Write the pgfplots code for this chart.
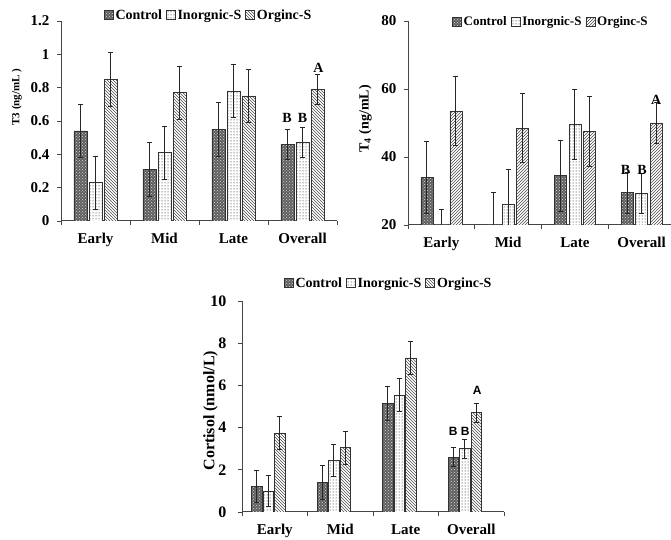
\documentclass[border=0pt]{standalone}
\usepackage{fontspec}
\setmainfont{Liberation Serif}
\newfontfamily\arialf{Liberation Sans}
\usepackage{pgfplots}
\pgfplotsset{compat=1.18}
\usetikzlibrary{patterns}

\definecolor{axgray}{RGB}{70,70,70}
\definecolor{ctrl}{RGB}{95,95,95}

\pgfplotsset{
  hormone/.style={
    scale only axis,
    axis x line*=bottom, axis y line*=left,
    axis line style={axgray, line width=1pt},
    every tick/.style={axgray, line width=0.8pt},
    tick align=outside, major tick length=4pt,
    xmin=0.5, xmax=4.5,
    xtick={0.5,1.5,2.5,3.5,4.5}, xticklabels={},
    extra x ticks={1,2,3,4}, extra x tick labels={Early,Mid,Late,Overall},
    extra x tick style={major tick length=0pt},
    xticklabel style={font=\bfseries\fontsize{15}{17}\selectfont, yshift=-9pt},
    yticklabel style={font=\bfseries\fontsize{15}{17}\selectfont, xshift=-4pt},
    /pgf/number format/assume math mode=true,
    ybar,
    legend style={draw=none, fill=none, legend columns=3,
      font=\bfseries\fontsize{14}{16}\selectfont,
      /tikz/every even column/.append style={column sep=2pt}},
  },
  sqleg/.style={/pgfplots/legend image code/.code={\draw[##1, line width=0.6pt] (0pt,-4.5pt) rectangle (9pt,4.5pt);}},
  eb/.style={error bars/y dir=both, error bars/y explicit,
    error bars/error bar style={black!85, line width=0.9pt},
    error bars/error mark options={rotate=90, mark size=2.5pt, line width=0.9pt, black!85}},
  ctrlbar/.style={draw=black!80, line width=0.7pt, fill=ctrl,
    postaction={pattern=crosshatch dots, pattern color=white!70!gray}, sqleg},
  inorgbar/.style={draw=black!80, line width=0.7pt, fill=white,
    postaction={pattern=dots, pattern color=black}, sqleg},
  orgNW/.style={draw=black!80, line width=0.7pt, fill=white,
    postaction={pattern=north west lines, pattern color=black!70}, sqleg},
  orgNE/.style={draw=black!80, line width=0.7pt, fill=white,
    postaction={pattern=north east lines, pattern color=black!70}, sqleg},
}

\begin{document}
\begin{tikzpicture}[x=1pt,y=1pt]
\useasboundingbox (0,0) rectangle (671,540);

% ---------------- T3 ----------------
\begin{axis}[hormone, at={(61pt,319pt)}, anchor=south west,
  width=276pt, height=200pt,
  ymin=0, ymax=1.2, ytick={0,0.2,...,1.2},
  bar width=13pt, ybar=2pt,
  ylabel={T3 (ng/mL )},
  ylabel style={font=\bfseries\fontsize{11}{13}\selectfont, at={(axis description cs:-0.16,0.62)}, anchor=center, rotate=0},
  legend style={at={(axis description cs:0.535,1.03)}, anchor=center},
]
\addplot[ctrlbar, eb] coordinates {(1,0.54) +- (0,0.16) (2,0.31) +- (0,0.16) (3,0.55) +- (0,0.16) (4,0.46) +- (0,0.09)};
\addplot[inorgbar, eb] coordinates {(1,0.23) +- (0,0.16) (2,0.41) +- (0,0.16) (3,0.78) +- (0,0.16) (4,0.47) +- (0,0.09)};
\addplot[orgNW, eb] coordinates {(1,0.85) +- (0,0.16) (2,0.77) +- (0,0.16) (3,0.75) +- (0,0.16) (4,0.79) +- (0,0.09)};
\legend{Control,Inorgnic-S,Orginc-S}
\node[font=\bfseries\fontsize{14}{16}\selectfont] at (axis cs:4,0.62) [xshift=-15.5pt] {B};
\node[font=\bfseries\fontsize{14}{16}\selectfont] at (axis cs:4,0.62) {B};
\node[font=\bfseries\fontsize{14}{16}\selectfont] at (axis cs:4,0.92) [xshift=16pt] {A};
\end{axis}

% ---------------- T4 ----------------
\begin{axis}[hormone, at={(408pt,315pt)}, anchor=south west,
  width=267pt, height=204pt,
  ymin=20, ymax=80, ytick={20,40,60,80},
  bar width=12pt, ybar=2.5pt,
  ylabel={T$_{\mathbf{4}}$ (ng/mL)},
  ylabel style={font=\bfseries\fontsize{14}{16}\selectfont, at={(axis description cs:-0.16,0.52)}, anchor=center, rotate=0},
  legend style={at={(axis description cs:0.535,0.995)}, anchor=center, font=\bfseries\fontsize{13}{15}\selectfont},
]
\addplot[ctrlbar, eb] coordinates {(1,34) +- (0,10.5) (2,19) +- (0,10.5) (3,34.5) +- (0,10.5) (4,29.5) +- (0,6)};
\addplot[inorgbar, eb] coordinates {(1,14) +- (0,10.5) (2,26) +- (0,10.3) (3,49.5) +- (0,10.3) (4,29.3) +- (0,6)};
\addplot[orgNE, eb] coordinates {(1,53.5) +- (0,10.2) (2,48.5) +- (0,10.2) (3,47.5) +- (0,10.2) (4,50) +- (0,6)};
\legend{Control,Inorgnic-S,Orginc-S}
\node[font=\bfseries\fontsize{14}{16}\selectfont] at (axis cs:4,36.2) [xshift=-16pt] {B};
\node[font=\bfseries\fontsize{14}{16}\selectfont] at (axis cs:4,36.2) [xshift=0.5pt] {B};
\node[font=\bfseries\fontsize{14}{16}\selectfont] at (axis cs:4,56.8) [xshift=14.5pt] {A};
\end{axis}

% ---------------- Cortisol ----------------
\begin{axis}[hormone, at={(242pt,28pt)}, anchor=south west,
  width=262pt, height=211pt,
  ymin=0, ymax=10, ytick={0,2,...,10},
  bar width=10.5pt,
  yticklabel style={font=\bfseries\fontsize{16}{18}\selectfont, xshift=-4pt},
  ylabel={Cortisol (nmol/L)},
  ylabel style={font=\bfseries\fontsize{16}{18}\selectfont, at={(axis description cs:-0.12,0.48)}, anchor=center, rotate=0},
  legend style={at={(axis description cs:0.56,1.085)}, anchor=center},
]
\addplot[ctrlbar, bar shift=-18pt, eb] coordinates {(1,1.2) +- (0,0.77) (2,1.4) +- (0,0.8) (3,5.15) +- (0,0.8) (4,2.6) +- (0,0.45)};
\addplot[inorgbar, bar shift=-6.5pt, eb] coordinates {(1,1.0) +- (0,0.75) (2,2.45) +- (0,0.77) (3,5.55) +- (0,0.8) (4,3.0) +- (0,0.45)};
\addplot[orgNW, bar shift=5pt, eb] coordinates {(1,3.75) +- (0,0.77) (2,3.05) +- (0,0.78) (3,7.3) +- (0,0.8) (4,4.7) +- (0,0.45)};
\legend{Control,Inorgnic-S,Orginc-S}
\node[font=\arialf\bfseries\fontsize{12}{14}\selectfont] at (axis cs:4,3.84) [xshift=-18pt] {B};
\node[font=\arialf\bfseries\fontsize{12}{14}\selectfont] at (axis cs:4,3.84) [xshift=-6pt] {B};
\node[font=\arialf\bfseries\fontsize{12}{14}\selectfont] at (axis cs:4,5.78) [xshift=6pt] {A};
\end{axis}
\end{tikzpicture}
\end{document}
